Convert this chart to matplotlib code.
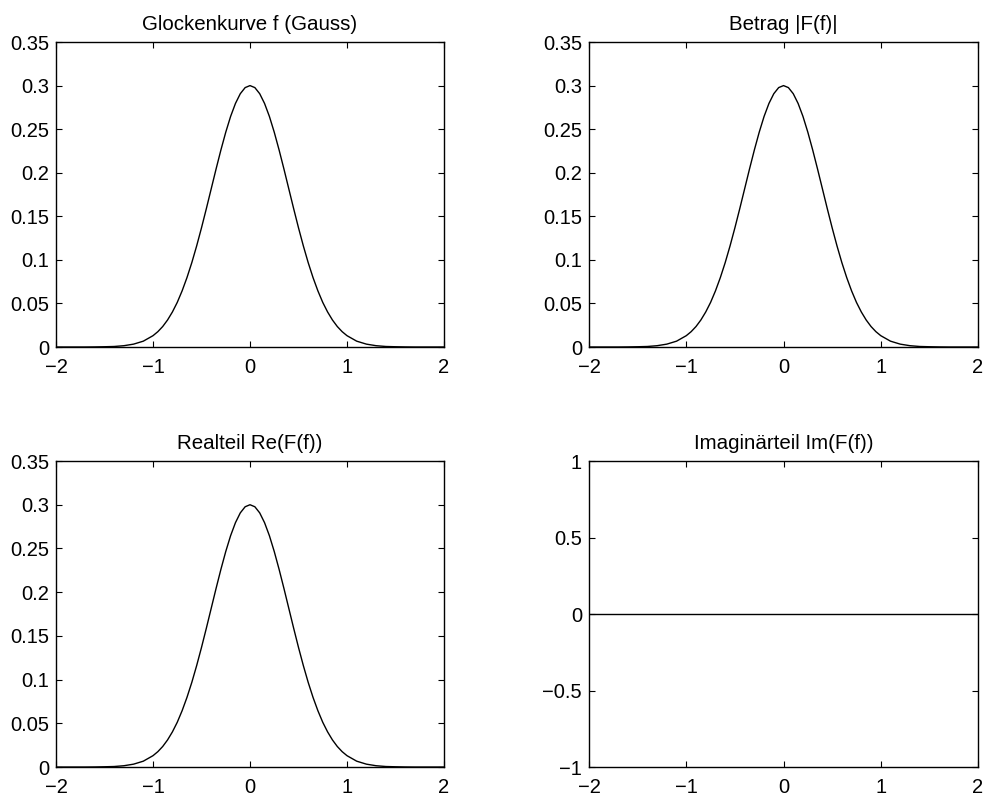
import numpy as np
import matplotlib
matplotlib.use("Agg")
import matplotlib.pyplot as plt

plt.rcParams['font.family'] = ['Liberation Sans', 'DejaVu Sans']
plt.rcParams['font.size'] = 14.5
plt.rcParams['axes.unicode_minus'] = True

# Abtastpunkte der Glockenkurve (symmetrisch um 0)
x_half = [0.0, 0.05, 0.1, 0.15, 0.2, 0.25, 0.3, 0.35, 0.4, 0.45, 0.5,
          0.55, 0.6, 0.65, 0.7, 0.75, 0.8, 0.85, 0.9, 0.95, 1.0,
          1.1, 1.2, 1.3, 1.4, 1.5, 1.6, 1.7, 1.8, 1.9, 2.0]
y_half = [0.3, 0.2977, 0.2907, 0.2795, 0.2646, 0.2465, 0.2261, 0.2042, 0.1815, 0.1588, 0.1368,
          0.1160, 0.0968, 0.0796, 0.0644, 0.0512, 0.0402, 0.0310, 0.0235, 0.0176, 0.0130,
          0.0067, 0.0033, 0.0015, 0.0006, 0.0003, 0.0001, 0.0, 0.0, 0.0, 0.0]

x = [-v for v in x_half[:0:-1]] + x_half
gauss = y_half[:0:-1] + y_half
betrag = list(gauss)
realteil = list(gauss)
imag = [0.0] * len(x)

titles = ['Glockenkurve f (Gauss)', 'Betrag |F(f)|',
          'Realteil Re(F(f))', 'Imaginärteil Im(F(f))']
xticks = [-2, -1, 0, 1, 2]
yticks_gauss = [0, 0.05, 0.1, 0.15, 0.2, 0.25, 0.3, 0.35]
yticks_imag = [-1, -0.5, 0, 0.5, 1]

fig = plt.figure(figsize=(9.86, 7.99), dpi=100)
positions = [
    [0.0568, 0.5657, 0.3935, 0.3817],
    [0.5974, 0.5657, 0.3945, 0.3817],
    [0.0568, 0.0400, 0.3935, 0.3830],
    [0.5974, 0.0400, 0.3945, 0.3830],
]
series = [gauss, betrag, realteil, imag]


def fmt(v):
    return ('%g' % v).replace('-', '\u2212')


for pos, ys, title in zip(positions, series, titles):
    ax = fig.add_axes(pos)
    ax.plot(x, ys, color='black', linewidth=1.0)
    ax.set_xlim(-2, 2)
    ax.set_xticks(xticks)
    ax.set_xticklabels([fmt(t) for t in xticks])
    if ys is imag:
        ax.set_ylim(-1, 1)
        ax.set_yticks(yticks_imag)
        ax.set_yticklabels([fmt(t) for t in yticks_imag])
    else:
        ax.set_ylim(0, 0.35)
        ax.set_yticks(yticks_gauss)
        ax.set_yticklabels([fmt(t) for t in yticks_gauss])
    ax.tick_params(direction='in', length=4, width=0.8, top=True, right=True)
    ax.tick_params(axis='x', pad=8)
    ax.tick_params(axis='y', pad=5)
    for sp in ax.spines.values():
        sp.set_linewidth(1.0)
    ax.set_title(title, fontsize=14.8, pad=9)

fig.savefig('out.png', dpi=100, facecolor='white')
